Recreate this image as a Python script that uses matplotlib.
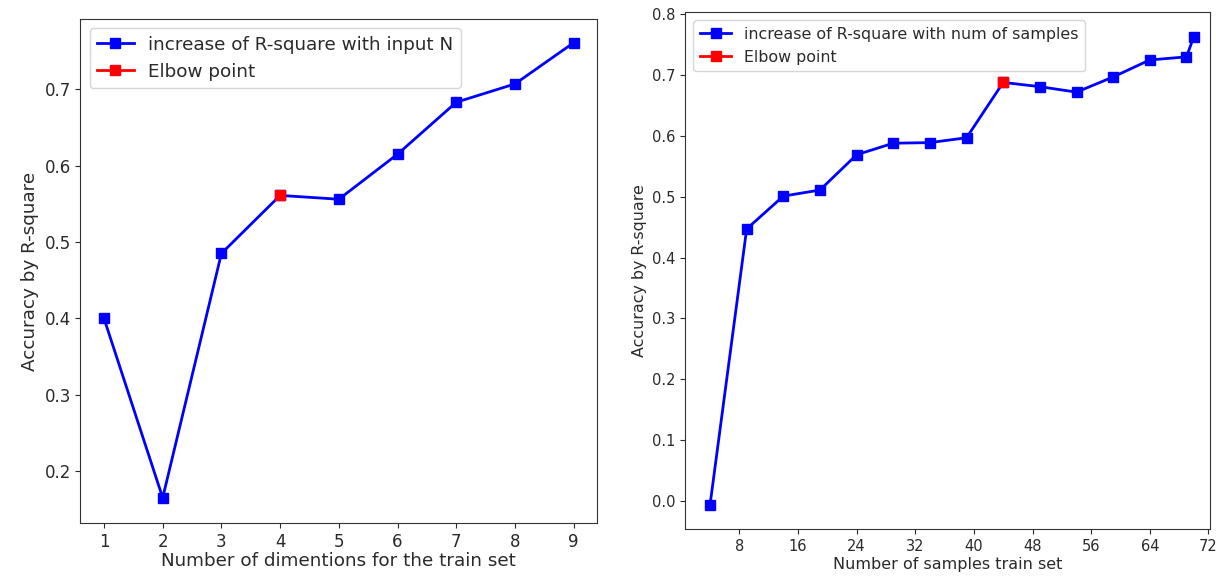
import matplotlib
matplotlib.use("Agg")
import matplotlib.pyplot as plt

# Left chart data
dims = [1, 2, 3, 4, 5, 6, 7, 8, 9]
r2_dims = [0.400, 0.165, 0.485, 0.561, 0.556, 0.615, 0.683, 0.707, 0.761]
elbow_dim_x = [4]
elbow_dim_y = [0.561]

# Right chart data
samples = [4, 9, 14, 19, 24, 29, 34, 39, 44, 49, 54, 59, 64, 69, 70]
r2_samples = [-0.007, 0.447, 0.501, 0.511, 0.569, 0.588, 0.589, 0.597,
              0.688, 0.681, 0.672, 0.697, 0.725, 0.730, 0.763]
elbow_samp_x = [44]
elbow_samp_y = [0.688]

left_xticks = [1, 2, 3, 4, 5, 6, 7, 8, 9]
left_yticks = [0.2, 0.3, 0.4, 0.5, 0.6, 0.7]
right_xticks = [8, 16, 24, 32, 40, 48, 56, 64, 72]
right_yticks = [0.0, 0.1, 0.2, 0.3, 0.4, 0.5, 0.6, 0.7, 0.8]

txt = '#2a2a2a'
plt.rcParams['text.color'] = txt
plt.rcParams['axes.labelcolor'] = txt
plt.rcParams['xtick.color'] = txt
plt.rcParams['ytick.color'] = txt
plt.rcParams['axes.edgecolor'] = '#333333'

fig = plt.figure(figsize=(12.16, 5.76), dpi=100)

ax1 = fig.add_axes([0.0662, 0.092, 0.4249, 0.875])
ax1.plot(dims, r2_dims, 's-', color='blue', lw=2, ms=7.5,
         label='increase of R-square with input N')
ax1.plot(elbow_dim_x, elbow_dim_y, 's-', color='red', lw=2, ms=7.5,
         label='Elbow point')
ax1.set_xlim(0.6, 9.4)
ax1.set_ylim(0.132, 0.792)
ax1.set_xticks(left_xticks)
ax1.set_yticks(left_yticks)
ax1.tick_params(labelsize=12)
ax1.set_xlabel('Number of dimentions for the train set', fontsize=13.2, labelpad=1)
ax1.set_ylabel('Accuracy by R-square', fontsize=13.2)
ax1.legend(loc='upper left', fontsize=13.2)

ax2 = fig.add_axes([0.5637, 0.0811, 0.4316, 0.8972])
ax2.plot(samples, r2_samples, 's-', color='blue', lw=2, ms=7,
         label='increase of R-square with num of samples')
ax2.plot(elbow_samp_x, elbow_samp_y, 's-', color='red', lw=2, ms=7,
         label='Elbow point')
ax2.set_xlim(0.65, 72.25)
ax2.set_ylim(-0.047, 0.803)
ax2.set_xticks(right_xticks)
ax2.set_yticks(right_yticks)
ax2.tick_params(labelsize=10.5)
ax2.set_xlabel('Number of samples train set', fontsize=11.5, labelpad=2)
ax2.set_ylabel('Accuracy by R-square', fontsize=11.4)
ax2.legend(loc='upper left', fontsize=11.4)

fig.savefig('out.png', dpi=100)
